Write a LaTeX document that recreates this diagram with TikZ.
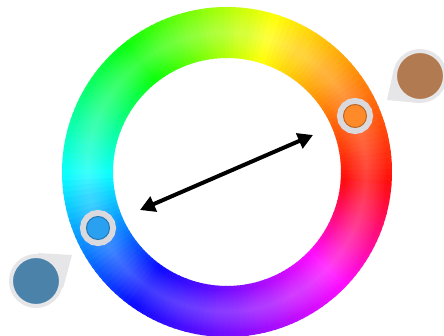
\documentclass[tikz,border=0pt]{standalone}
\usetikzlibrary{arrows.meta}
\definecolor{ringgray}{HTML}{D9D9DE}
\definecolor{tailgray}{HTML}{E6E6E8}
\definecolor{brownsw}{HTML}{B27A50}
\definecolor{bluesw}{HTML}{4A82AA}
\definecolor{orangeknob}{HTML}{FF8A2A}
\definecolor{blueknob}{HTML}{2AA0F0}
\begin{document}
\begin{tikzpicture}[x=1pt,y=1pt,
  knob/.style={circle,minimum size=23pt,inner sep=0pt,line width=1pt,
    fill=#1,draw=#1!75!black,preaction={draw=ringgray,line width=13pt}},
  swatch/.style={circle,minimum size=50pt,inner sep=0pt,line width=4pt,
    fill=#1,draw=tailgray}]
\useasboundingbox (0,0) rectangle (444,335);
% hue ring
\coordinate (ctr) at (227,163);
\begin{scope}[shift={(ctr)}]
\foreach \a in {-5,-3,...,353}{
  \pgfmathsetmacro{\b}{\a+2.6}
  \pgfmathsetmacro{\h}{min(360,\a<72 ? (\a+5)/77*60 : (\a<127 ? 60+(\a-72)/55*60 :
    (\a<180 ? 120+(\a-127)/53*60 : (\a<234 ? 180+(\a-180)/54*60 :
    (\a<315 ? 240+(\a-234)/81*60 : 300+(\a-315)/40*60)))))}
  \pgfmathsetmacro{\h}{max(0,\h)}
  \definecolor{wheel}{Hsb}{\h,0.95,1}
  \fill[wheel] (\a:165pt) arc (\a:\b:165pt) -- (\b:114pt) arc (\b:\a:114pt) -- cycle;
}
\end{scope}
% soft sheen on the ring
\foreach \w in {40,36,...,4}
  \draw[white,opacity=0.025,line width=\w pt] (ctr) circle (139.5pt);
% swatches with tails
\coordinate (tipo) at (387,235);
\coordinate (tipb) at (72,80);
\fill[tailgray] (tipo) -- ([shift={(167:27pt)}]420,259) -- (420,259) -- ([shift={(265:27pt)}]420,259) -- cycle;
\fill[tailgray] (tipb) -- ([shift={(86:28pt)}]36,54) -- (36,54) -- ([shift={(-14:28pt)}]36,54) -- cycle;
\node[swatch=brownsw] (brown) at (420,259) {};
\node[swatch=bluesw] (steel) at (36,54) {};
% handles
\node[knob=orangeknob] (ko) at (355,219) {};
\node[knob=blueknob] (kb) at (98,107) {};
% arrow
\coordinate (endb) at (140,125);
\coordinate (endo) at (313,200);
\draw[line width=4pt,{Triangle[length=15pt,width=16pt]}-{Triangle[length=15pt,width=16pt]}] (endb) -- (endo);
\end{tikzpicture}
\end{document}
